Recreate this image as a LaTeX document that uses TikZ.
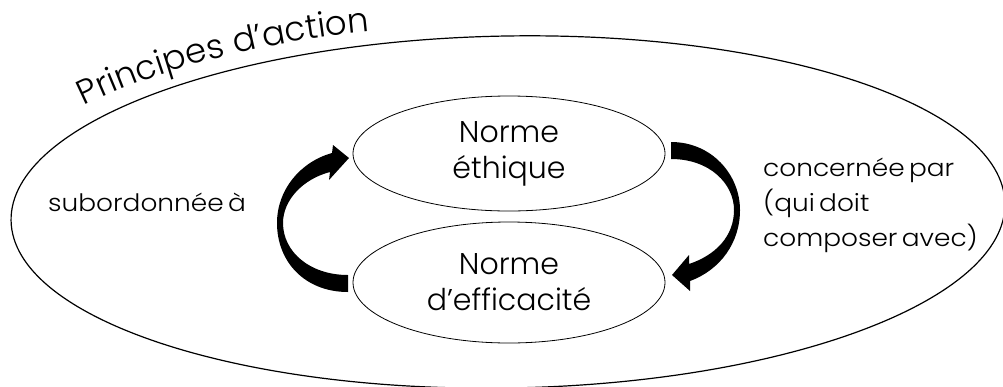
\documentclass[tikz,border=0pt]{standalone}
\usepackage{fontspec}
\setmainfont{Poppins}[UprightFont={* Light}]
\newfontfamily\widefont{Poppins}[UprightFont={* Light}, FakeStretch=1.1, WordSpace=0.6]
\usetikzlibrary{shapes.geometric,decorations.text}
\begin{document}
\begin{tikzpicture}[x=1pt,y=-1pt,
  normbox/.style={ellipse, draw, line width=0.8pt, inner sep=0pt,
    minimum width=312pt, align=center,
    font=\fontsize{30}{36}\selectfont},
  sidetext/.style={anchor=base west, align=left, inner sep=0pt,
    font=\widefont\fontsize{24}{35}\selectfont},
  bigarrow/.style={fill=black, draw=none}]
  \useasboundingbox (0,0) rectangle (1003,386);
  \begin{scope}
    \clip (0,0) rectangle (1003,386);
    % outer domain of action principles
    \draw[line width=1.2pt, rotate around={1:(508,212)}]
      (508,212) ellipse [x radius=497, y radius=176];
  \end{scope}
  % title following the outer border
  \path[decorate, decoration={text along path, text align=left,
      text={|\fontsize{34}{34}\selectfont|Principes d’action}}]
    (84,106) .. controls (170,64) and (280,38) .. (390,30);

  % the two norms
  \node[normbox, minimum height=115pt] (eth) at (509,153.5) {Norme\\éthique};
  \node[normbox, minimum height=121pt] (eff) at (509,282.5) {Norme\\d’efficacité};

  % curved arrow: efficacy -> ethics
  \fill[bigarrow]
    (348,292) .. controls (305,292) and (277,262) .. (277,223)
    .. controls (277,190) and (300,162) .. (332,153)
    -- (333,145) -- (349,158) -- (329,180) -- (330,172)
    .. controls (303,179) and (283,200) .. (283,223)
    .. controls (283,252) and (310,275) .. (348,275) -- cycle;
  % curved arrow: ethics -> efficacy
  \fill[bigarrow]
    (671,142) .. controls (712,142) and (740,175) .. (740,210)
    .. controls (740,243) and (720,270) .. (690,281)
    -- (690,291) -- (672,275) -- (689,255) -- (689,264)
    .. controls (716,255) and (734,236) .. (734,210)
    .. controls (734,184) and (710,159) .. (671,159) -- cycle;

  % labels of the relations
  \node[sidetext] (sub) at (48,211) {subordonnée à};
  \node[sidetext] (con) at (763,246) {concernée par\\(qui doit\\composer avec)};
\end{tikzpicture}
\end{document}
